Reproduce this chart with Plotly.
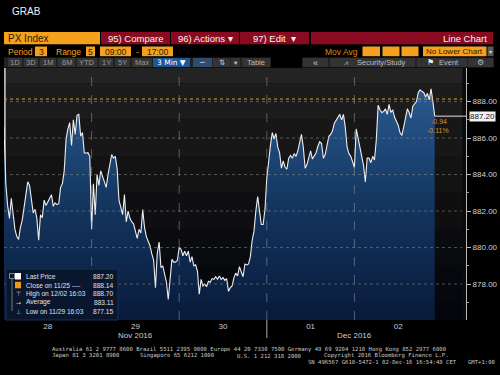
import plotly.graph_objects as go

# ---------------- data ----------------
day_labels = ["28", "29", "30", "01", "02"]
month_labels = ["Nov 2016", "Dec 2016"]
step_minutes = 10          # sampling step of the price lists
session_minutes = 480      # 09:00 - 17:00

nov28 = [886.6, 883.5, 882.3, 881.6, 882.7, 881.9, 881.0, 880.6, 880.45, 881.1,
         881.5, 882.2, 882.9, 883.6, 883.4, 882.7, 881.9, 882.1, 881.6, 880.4,
         881.8, 881.64, 882.6, 882.3, 882.5, 882.7, 882.9, 882.26, 882.45, 882.35,
         882.4, 883.3, 883.5, 884.2, 885.9, 886.5, 886.85, 885.6, 887.0, 886.2,
         887.25, 887.3, 886.1, 886.3, 885.18, 885.18, 885.2, 885.0]
nov29 = [881.0, 883.5, 881.8, 884.0, 883.4, 884.2, 883.9, 883.5, 883.3, 884.0,
         884.5, 885.1, 884.9, 885.0, 884.3, 882.6, 882.2, 881.8, 882.9, 881.4,
         882.0, 881.6, 881.4, 881.3, 880.9, 880.5, 881.0, 880.8, 882.08, 881.1,
         880.6, 880.3, 880.1, 879.65, 879.3, 877.8, 879.7, 880.3, 878.9, 879.0,
         878.5, 878.1, 877.15, 878.3, 879.35, 879.2, 879.2, 879.3]
nov30 = [880.0, 879.9, 879.55, 879.8, 879.55, 879.8, 879.2, 879.5, 879.0, 879.05,
         878.7, 877.45, 878.26, 877.9, 878.0, 877.85, 878.15, 878.1, 878.3, 878.26,
         878.4, 878.26, 878.44, 878.26, 878.35, 878.2, 878.3, 877.6, 877.8, 877.9,
         878.35, 878.6, 878.45, 878.95, 878.7, 878.4, 879.1, 879.05, 879.1, 879.5,
         880.4, 880.9, 882.0, 882.8, 882.0, 881.26, 881.26, 882.1]
dec01 = [883.8, 884.8, 885.6, 886.3, 885.95, 886.25, 885.5, 885.2, 884.35, 884.75,
         884.4, 884.3, 884.9, 885.05, 884.9, 885.15, 885.0, 885.3, 885.8, 886.2,
         885.5, 884.35, 884.55, 884.95, 885.3, 884.85, 885.0, 885.2, 885.55, 885.8,
         885.7, 884.9, 885.1, 885.6, 886.1, 886.2, 886.4, 886.82, 887.0, 887.2,
         887.3, 887.0, 887.3, 886.6, 885.5, 885.15, 885.0, 884.7]
dec02 = [884.4, 886.5, 886.0, 885.35, 884.9, 884.5, 883.6, 884.9, 884.9, 884.65,
         885.0, 884.8, 885.9, 887.8, 887.55, 887.4, 887.45, 887.6, 887.3, 887.85,
         887.4, 887.55, 887.15, 886.95, 886.7, 886.3, 886.15, 886.6, 887.2, 887.6,
         887.4, 887.1, 887.75, 887.85, 888.0, 888.5, 888.64, 888.55, 888.5, 888.25,
         888.45, 888.1, 888.70, 888.0, 887.2]
days_prices = [nov28, nov29, nov30, dec01, dec02]

last_price = 887.20
prev_close = 888.14
change_text = ["-0.94", "-0.11%"]
legend_labels = ["Last Price", "Close on 11/25 ----", "High on 12/02 16:03",
                 "Average", "Low on 11/29 16:03"]
legend_values = ["887.20", "888.14", "888.70", "883.11", "877.15"]

footer_1 = "Australia 61 2 9777 8600 Brazil 5511 2395 9000 Europe 44 20 7330 7500 Germany 49 69 9204 1210 Hong Kong 852 2977 6000"
footer_2 = ["Japan 81 3 3201 8900", "Singapore 65 6212 1000", "U.S. 1 212 318 2000",
            "Copyright 2016 Bloomberg Finance L.P."]
footer_3 = ["SN 496567 G610-5472-1 02-Dec-16 16:54:48 CET", "GMT+1:00"]

# ---------------- build series ----------------
xs, ys = [], []
for d, arr in enumerate(days_prices):
    for i, v in enumerate(arr):
        xs.append(d + i * step_minutes / session_minutes)
        ys.append(v)

# ---------------- geometry helpers (pixel -> paper) ----------------
W, H = 500, 375
L, R, T, B = 4, 466, 68, 320
XMAX = (R - L) / 87.6


def px(x):
    return (x - L) / (R - L)


def py(y):
    return (B - y) / (B - T)


FONT = "Liberation Sans, Arial, sans-serif"
MONO = "DejaVu Sans Mono, monospace"
ORANGE = "#f5a11c"
RED = "#8a0b21"

fig = go.Figure()
fig.add_trace(go.Scatter(
    x=xs, y=ys, mode="lines",
    line=dict(color="#eeeeee", width=1.1),
    fill="tozeroy",
    fillgradient=dict(type="vertical",
                      colorscale=[[0, "#081a3a"], [0.5, "#143660"], [1, "#2a5c94"]],
                      start=876, stop=889),
    hoverinfo="skip",
))

shapes = []
annotations = []

# background bands
bands = [(889, 891, "#232323"), (887, 889, "#1c1c1c"), (885, 887, "#171717"),
         (883, 885, "#131313"), (881, 883, "#0f0f11"), (879, 881, "#0a0b0e"),
         (877, 879, "#06080d"), (875, 877, "#04060c")]
for y0, y1, c in bands:
    shapes.append(dict(type="rect", xref="paper", yref="y", x0=0, x1=0.992, y0=y0, y1=y1,
                       fillcolor=c, line=dict(width=0), layer="below"))
# left border
shapes.append(dict(type="line", xref="paper", yref="paper", x0=0.002, x1=0.002, y0=0, y1=1,
                   line=dict(color="#d0d0d0", width=1.5), layer="below"))

# gridlines (above fill)
for v in range(878, 889, 2):
    shapes.append(dict(type="line", xref="paper", yref="y", x0=0, x1=0.992, y0=v, y1=v,
                       line=dict(color="rgba(140,140,140,0.55)", width=1, dash="dot"),
                       layer="above"))
for d in range(1, 5):
    shapes.append(dict(type="line", xref="x", yref="paper", x0=d, x1=d, y0=0, y1=1,
                       line=dict(color="rgba(150,150,150,0.55)", width=1, dash="dash"),
                       layer="above"))
# month separator below axis
shapes.append(dict(type="line", xref="x", yref="paper", x0=3, x1=3, y0=py(320), y1=py(338),
                   line=dict(color="#aaaaaa", width=1)))

# previous close (orange dotted)
shapes.append(dict(type="line", xref="paper", yref="y", x0=0, x1=0.992, y0=prev_close, y1=prev_close,
                   line=dict(color="#e89a2a", width=1, dash="dot"), layer="above"))
# last price marker line
shapes.append(dict(type="line", xref="x", yref="y", x0=xs[-1], x1=XMAX, y0=last_price, y1=last_price,
                   line=dict(color="#e0e0e0", width=1), layer="above"))

annotations.append(dict(xref="paper", yref="y", x=px(469), y=last_price, xanchor="left", yanchor="middle",
                        text="887.20", showarrow=False, bgcolor="#f2f2f2", borderpad=0,
                        font=dict(size=8, color="#111111", family=FONT)))
annotations.append(dict(xref="paper", yref="paper", x=px(449), y=py(121), yanchor="middle", text=change_text[0],
                        showarrow=False, font=dict(size=7, color="#d9902a", family=FONT)))
annotations.append(dict(xref="paper", yref="paper", x=px(451), y=py(130), yanchor="middle", text=change_text[1],
                        showarrow=False, font=dict(size=7, color="#d9902a", family=FONT)))

# month labels
for lab, xv in zip(month_labels, [1.5, 4.0]):
    annotations.append(dict(xref="x", yref="paper", x=xv, y=py(335), yanchor="middle", text=lab,
                            showarrow=False, font=dict(size=8, color="#cccccc", family=FONT)))

# ---------------- legend box ----------------
shapes.append(dict(type="rect", xref="paper", yref="paper", x0=px(6), x1=px(118), y0=py(320), y1=py(269),
                   fillcolor="rgba(9,22,45,0.95)", line=dict(color="#1c2f52", width=1), layer="above"))
shapes.append(dict(type="line", xref="paper", yref="paper", x0=px(12), x1=px(12), y0=py(311), y1=py(276),
                   line=dict(color="#777777", width=1), layer="above"))
shapes.append(dict(type="rect", xref="paper", yref="paper", x0=px(9.5), x1=px(14.5), y0=py(278.5), y1=py(273.5),
                   fillcolor="rgba(9,22,45,1)", line=dict(color="#888888", width=1), layer="above"))
shapes.append(dict(type="rect", xref="paper", yref="paper", x0=px(15), x1=px(21), y0=py(279.5), y1=py(273),
                   fillcolor="#ffffff", line=dict(width=0), layer="above"))
shapes.append(dict(type="rect", xref="paper", yref="paper", x0=px(15), x1=px(21), y0=py(288.3), y1=py(281.8),
                   fillcolor="#f09a1a", line=dict(width=0), layer="above"))
row_y = [276.3, 285, 293.5, 302.3, 311]
glyphs = ["", "", "⊤", "→", "⊥"]
for yy, lab, val, g in zip(row_y, legend_labels, legend_values, glyphs):
    annotations.append(dict(xref="paper", yref="paper", x=px(24), y=py(yy), xanchor="left", yanchor="middle",
                            text=lab, showarrow=False, font=dict(size=6.6, color="#e0e0e0", family=FONT)))
    annotations.append(dict(xref="paper", yref="paper", x=px(116), y=py(yy), xanchor="right", yanchor="middle",
                            text=val, showarrow=False, font=dict(size=6.6, color="#e0e0e0", family=FONT)))
    if g:
        annotations.append(dict(xref="paper", yref="paper", x=px(18), y=py(yy), xanchor="center", yanchor="middle",
                                text=g, showarrow=False, font=dict(size=6, color="#cccccc", family="DejaVu Sans")))

# ---------------- header / toolbar ----------------
def box(x0, y0, x1, y1, color, line=None):
    shapes.append(dict(type="rect", xref="paper", yref="paper", x0=px(x0), x1=px(x1), y0=py(y1), y1=py(y0),
                       fillcolor=color, line=dict(width=0) if line is None else line))


def text(x, y, s, size=9, color="#ffffff", anchor="left", family=FONT):
    annotations.append(dict(xref="paper", yref="paper", x=px(x), y=py(y), xanchor=anchor, yanchor="middle",
                            text=s, showarrow=False, font=dict(size=size, color=color, family=family)))


text(10, 12, "GRAB", size=10, color="#f0f0f0")

# row 1
box(4, 32, 100, 44.3, ORANGE)
text(6, 38.5, "PX Index", size=10, color="#2a1a00")
box(101, 32, 170, 44.3, RED)
text(135.5, 38.3, "95) Compare", size=9.5, color="#f4f4f4", anchor="center")
box(171, 32, 239, 44.3, RED)
text(205, 38.3, "96) Actions ▾", size=9.5, color="#f4f4f4", anchor="center")
box(240, 32, 309, 44.3, RED)
text(274, 38.3, "97) Edit  ▾", size=9.5, color="#f4f4f4", anchor="center")
box(311, 32, 493, 44.3, RED)
text(489, 38.8, "Line Chart", size=9.5, color="#f4f4f4", anchor="right")

# row 2
text(6, 51.5, "Period", size=8.5, color=ORANGE)
box(35, 46.5, 47, 56.2, ORANGE)
text(41, 51.5, "3", size=8.5, color="#2a1a00", anchor="center")
text(54, 51.5, "Range", size=8.5, color=ORANGE)
box(86, 46.5, 95, 56.2, ORANGE)
text(90.5, 51.5, "5", size=8.5, color="#2a1a00", anchor="center")
box(100, 46.5, 131, 56.2, ORANGE)
text(115.5, 51.5, "09:00", size=8.5, color="#2a1a00", anchor="center")
text(137, 51.5, "-", size=8.5, color=ORANGE, anchor="center")
box(142, 46.5, 173, 56.2, ORANGE)
text(157.5, 51.5, "17:00", size=8.5, color="#2a1a00", anchor="center")
text(360, 51.5, "Mov Avg", size=8.5, color="#d98a1a", anchor="right")
for a, b in [(362.5, 380), (382.5, 399.5), (401.5, 418.5)]:
    box(a, 46.5, b, 56.2, ORANGE)
box(423, 46.5, 486.5, 56.2, ORANGE)
text(424, 51.5, "No Lower Chart", size=8, color="#2a1a00")
box(487.5, 46.5, 493.5, 56.2, "#5a5a5a")
text(490.5, 51.5, "▾", size=6, color="#dddddd", anchor="center", family="DejaVu Sans")

# row 3
box(4, 57.5, 271, 67.5, "#222222")
btns = [("1D", 8, 22), ("3D", 24, 38), ("1M", 40, 56), ("6M", 58, 75), ("YTD", 77, 97),
        ("1Y", 99, 113), ("5Y", 115, 130), ("Max", 132, 152)]
for s, a, b in btns:
    box(a, 58, b, 67, "#333333")
    text((a + b) / 2, 62.5, s, size=7.5, color="#9a9a9a", anchor="center")
box(153, 58, 190, 67, "#1d5797")
text(171.5, 62.5, "3 Min ▼", size=7.5, color="#ffffff", anchor="center", family="DejaVu Sans")
box(193, 58, 212, 67, "#2d4c70")
text(202.5, 62.5, "∽", size=8, color="#bfd4ee", anchor="center", family="DejaVu Sans")
box(213, 58, 230, 67, "#333333")
text(221.5, 62.5, "⇅", size=7.5, color="#cccccc", anchor="center", family="DejaVu Sans")
box(231, 58, 240, 67, "#333333")
text(235.5, 62.5, "▾", size=6.5, color="#cccccc", anchor="center", family="DejaVu Sans")
box(242, 58, 270, 67, "#333333")
text(256, 62.5, "Table", size=7.5, color="#bbbbbb", anchor="center")

box(302, 57.5, 494, 67.5, "#222222")
box(303, 58, 328, 67, "#333333")
text(315.5, 62.5, "«", size=9, color="#cccccc", anchor="center")
box(330, 58, 415, 67, "#333333")
text(346, 62.5, "⩘", size=7, color="#bbbbbb", anchor="center", family="DejaVu Sans")
text(355, 62.5, "Security/Study", size=7.5, color="#bbbbbb")
box(417, 58, 467, 67, "#333333")
text(430, 62.5, "⚑", size=8, color="#eeeeee", anchor="center", family="DejaVu Sans")
text(437, 62.5, "Event", size=7.5, color="#bbbbbb")
box(468, 58, 493, 67, "#333333")
text(480.5, 62.5, "⚙", size=8, color="#bbbbbb", anchor="center", family="DejaVu Sans")

# ---------------- footer ----------------
FS = 5.6
text(50, 349, footer_1, size=FS, color="#c8c8c8", family=MONO)
for s, xx in zip(footer_2, [50, 138, 235, 322]):
    text(xx, 355.5, s, size=FS, color="#c8c8c8", family=MONO)
text(306, 362, footer_3[0], size=FS, color="#c8c8c8", family=MONO)
text(497, 362, footer_3[1], size=FS, color="#c8c8c8", anchor="right", family=MONO)

fig.update_layout(
    width=W, height=H,
    margin=dict(l=L, r=W - R, t=T, b=H - B, pad=0),
    paper_bgcolor="#000000", plot_bgcolor="#0b0b0b",
    showlegend=False,
    xaxis=dict(range=[0, XMAX], tickmode="array", tickvals=[d + 0.5 for d in range(5)],
               ticktext=day_labels, showgrid=False, zeroline=False, ticks="", showline=False,
               tickfont=dict(size=8, color="#cccccc", family=FONT), fixedrange=True, automargin=False),
    yaxis=dict(side="right", range=[876.03, 889.84], tickmode="linear", tick0=878, dtick=2,
               tickformat=".2f", ticks="outside", ticklen=4, tickcolor="#bbbbbb",
               showline=True, linecolor="#bbbbbb", linewidth=1, showgrid=False, zeroline=False,
               tickfont=dict(size=8, color="#d0d0d0", family=FONT),
               minor=dict(tick0=877, dtick=1, ticks="outside", ticklen=2, tickcolor="#999999", showgrid=False),
               fixedrange=True, automargin=False),
    shapes=shapes, annotations=annotations,
)

fig.write_html("out.html")
